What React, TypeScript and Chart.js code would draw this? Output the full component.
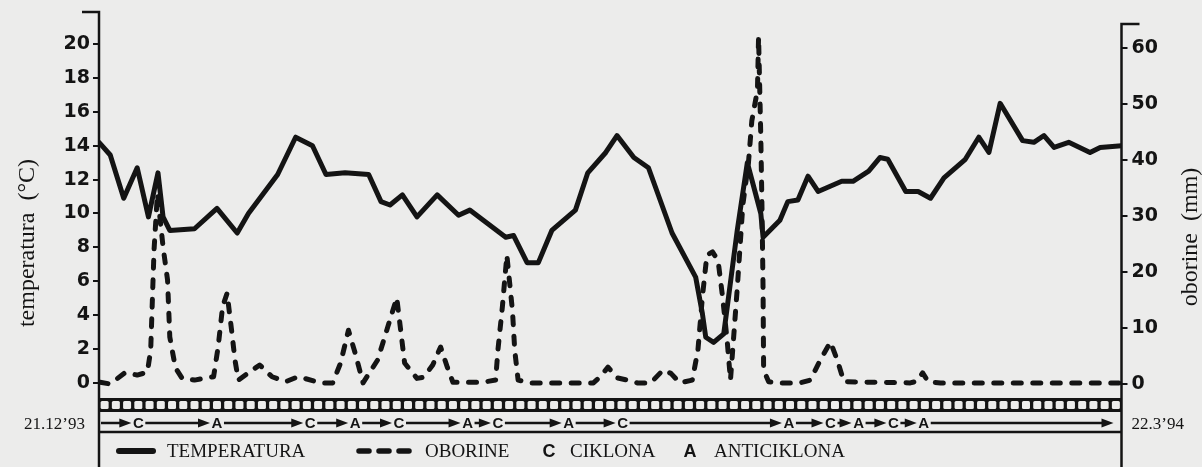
import React, { useEffect, useRef } from "react";
import { Chart, registerables } from "chart.js";

Chart.register(...registerables);

// ---- data (x = days since 21.12.1993) ----
const tempDays = [0, 1.0, 2.2, 3.4, 4.4, 5.25, 5.7, 6.3, 8.5, 10.5, 12.3, 13.3, 15.9, 17.5, 19.0, 20.2, 21.9, 24.0, 25.1, 25.9, 27.0, 28.3, 30.1, 32.0, 33.0, 34.2, 36.2, 36.9, 38.1, 39.1, 40.3, 42.4, 43.5, 45.1, 46.1, 47.6, 48.9, 51.0, 53.1, 53.7, 54.0, 54.7, 55.6, 56.8, 57.7, 58.9, 59.1, 60.6, 61.3, 62.2, 63.1, 64.0, 66.1, 67.1, 68.5, 69.5, 70.2, 71.8, 72.9, 74.0, 75.2, 77.1, 78.3, 79.2, 80.2, 82.2, 83.2, 84.1, 85.0, 86.3, 88.2, 89.1, 91.0];
const tempValues = [14.2, 13.45, 10.9, 12.7, 9.8, 12.4, 9.8, 9.0, 9.1, 10.3, 8.85, 10.0, 12.3, 14.5, 14.0, 12.3, 12.4, 12.3, 10.7, 10.5, 11.1, 9.8, 11.1, 9.9, 10.2, 9.6, 8.6, 8.7, 7.1, 7.1, 9.0, 10.2, 12.4, 13.6, 14.6, 13.3, 12.7, 8.85, 6.25, 4.1, 2.7, 2.4, 2.9, 9.0, 13.0, 10.0, 8.6, 9.6, 10.7, 10.8, 12.2, 11.3, 11.9, 11.9, 12.5, 13.3, 13.2, 11.3, 11.3, 10.9, 12.1, 13.2, 14.5, 13.6, 16.5, 14.3, 14.2, 14.6, 13.9, 14.2, 13.6, 13.9, 14.0];

const precipDays = [0.1, 1.0, 2.3, 3.4, 4.3, 4.6, 4.9, 5.2, 5.7, 6.1, 6.3, 6.8, 7.4, 8.5, 10.2, 10.6, 11.0, 11.4, 11.8, 12.1, 12.4, 13.3, 14.3, 15.4, 16.6, 17.7, 18.3, 19.7, 20.8, 21.5, 22.2, 22.8, 23.5, 24.8, 25.7, 26.5, 27.2, 28.3, 28.9, 29.7, 30.4, 31.0, 31.5, 34.1, 35.3, 35.5, 35.9, 36.3, 36.8, 37.0, 37.3, 38.4, 44.0, 44.6, 45.3, 46.1, 47.0, 47.9, 49.1, 50.2, 50.9, 51.7, 52.8, 53.3, 53.7, 54.1, 54.6, 55.1, 55.5, 55.9, 56.2, 56.8, 57.3, 57.8, 58.1, 58.6, 58.7, 58.9, 59.0, 59.1, 59.15, 59.6, 60.4, 62.4, 63.3, 64.2, 65.1, 65.7, 66.3, 72.2, 72.8, 73.3, 73.8, 74.9, 91.0];
const precipValues = [0.3, 0, 2.0, 1.6, 2.1, 6, 24, 34, 24.5, 18.6, 8.4, 2.9, 1, 0.7, 1.3, 6.6, 13.8, 16.2, 9.6, 4.3, 0.7, 2, 3.4, 1.3, 0.4, 1.3, 1.0, 0.2, 0.2, 3.75, 9.6, 5.5, 0.2, 4.3, 10.2, 15.4, 3.75, 1, 1.2, 3.4, 6.6, 3, 0.3, 0.3, 0.7, 6, 13.8, 23, 13, 6, 0.7, 0.2, 0.2, 1.3, 3, 1.1, 0.7, 0.2, 0.2, 2.5, 1.9, 0.2, 0.7, 6, 15.5, 23, 23.6, 22, 15.5, 7.9, 0.7, 17, 32, 39.5, 47, 52.5, 62, 44, 32, 17, 2.5, 0.4, 0.2, 0.2, 0.7, 4.3, 7.5, 4.3, 0.4, 0.2, 0.5, 2, 0.4, 0.2, 0.2];

const leftTicks = [0, 2, 4, 6, 8, 10, 12, 14, 16, 18, 20];
const rightTicks = [0, 10, 20, 30, 40, 50, 60];

const synopticTypes = ["C", "A", "C", "A", "C", "A", "C", "A", "C", "A", "C", "A", "C", "A"];
const synopticDays = [3.5, 10.5, 18.8, 22.8, 26.7, 32.8, 35.5, 41.8, 46.6, 61.4, 65.1, 67.6, 70.7, 73.4];

const dayCount = 91;
const startLabel = "21.12\u201993";
const endLabel = "22.3\u201994";
const leftTitle = "temperatura  (\u00B0C)";
const rightTitle = "oborine  (mm)";
const legendLabels = ["TEMPERATURA", "OBORINE", "CIKLONA", "ANTICIKLONA"];

const W = 1202;
const H = 467;
const INK = "#141414";
const PAPER = "#ececeb";
const SERIF = "'Liberation Serif', 'DejaVu Serif', serif";
const SANS_BOLD = "bold 19px 'DejaVu Sans', sans-serif";

const decor = {
  id: "decor",
  beforeDraw(chart: any) {
    const ctx = chart.ctx;
    ctx.save();
    ctx.fillStyle = PAPER;
    ctx.fillRect(0, 0, chart.width, chart.height);
    ctx.restore();
  },
  afterDraw(chart: any) {
    const ctx = chart.ctx;
    const xs = chart.scales.x;
    const ys = chart.scales.y;
    const L = xs.getPixelForValue(0);
    const R = xs.getPixelForValue(dayCount);
    const y0 = ys.getPixelForValue(0);
    const top = chart.chartArea.top;
    ctx.save();
    ctx.strokeStyle = INK;
    ctx.fillStyle = INK;
    ctx.lineCap = "butt";

    // axes
    ctx.lineWidth = 2.5;
    ctx.beginPath();
    ctx.moveTo(L - 17, top);
    ctx.lineTo(L, top);
    ctx.lineTo(L, H);
    ctx.moveTo(R + 18, top + 12);
    ctx.lineTo(R, top + 12);
    ctx.lineTo(R, H);
    ctx.stroke();

    // day strip
    const stripTop = y0 + 15;
    const stripH = 14;
    ctx.fillRect(L, stripTop, R - L, stripH);
    ctx.fillStyle = PAPER;
    for (let d = 0; d < dayCount; d++) {
      const cx = xs.getPixelForValue(d + 0.5);
      ctx.beginPath();
      (ctx as any).roundRect(cx - 4, stripTop + 3, 8, 8, 1.5);
      ctx.fill();
    }
    ctx.fillStyle = INK;

    // baseline under arrow row
    ctx.lineWidth = 2.5;
    ctx.beginPath();
    ctx.moveTo(L, y0 + 49);
    ctx.lineTo(R, y0 + 49);
    ctx.stroke();

    // arrow row
    const ay = y0 + 40;
    const arrow = (x1: number, x2: number) => {
      if (x2 - x1 < 4) return;
      ctx.lineWidth = 2.5;
      ctx.beginPath();
      ctx.moveTo(x1, ay);
      ctx.lineTo(x2 - 8, ay);
      ctx.stroke();
      ctx.beginPath();
      ctx.moveTo(x2, ay);
      ctx.lineTo(x2 - 12, ay - 4.5);
      ctx.lineTo(x2 - 12, ay + 4.5);
      ctx.closePath();
      ctx.fill();
    };
    ctx.font = "bold 15px 'Liberation Sans', sans-serif";
    ctx.textAlign = "center";
    ctx.textBaseline = "middle";
    let prev = L + 2;
    synopticDays.forEach((d, i) => {
      const x = xs.getPixelForValue(d);
      arrow(prev, x - 7);
      ctx.fillText(synopticTypes[i], x, ay + 1);
      prev = x + 7;
    });
    arrow(prev, R - 8);

    // date labels
    ctx.font = `17px ${SERIF}`;
    ctx.textAlign = "right";
    ctx.fillText(startLabel, L - 14, ay + 2);
    ctx.textAlign = "left";
    ctx.fillText(endLabel, R + 10, ay + 2);

    // legend
    const ly = y0 + 68;
    ctx.lineWidth = 6;
    ctx.lineCap = "round";
    ctx.beginPath();
    ctx.moveTo(119, ly);
    ctx.lineTo(153, ly);
    ctx.stroke();
    ctx.lineWidth = 5.5;
    ctx.setLineDash([10, 10]);
    ctx.beginPath();
    ctx.moveTo(359, ly);
    ctx.lineTo(410, ly);
    ctx.stroke();
    ctx.setLineDash([]);
    ctx.lineCap = "butt";
    ctx.font = `19px ${SERIF}`;
    ctx.textAlign = "left";
    ctx.fillText(legendLabels[0], 167, ly + 1);
    ctx.fillText(legendLabels[1], 425, ly + 1);
    ctx.fillText(legendLabels[2], 570, ly + 1);
    ctx.fillText(legendLabels[3], 714, ly + 1);
    ctx.font = "bold 18px 'Liberation Sans', sans-serif";
    ctx.textAlign = "center";
    ctx.fillText("C", 549, ly + 1);
    ctx.fillText("A", 690, ly + 1);

    // axis titles
    ctx.font = `24px ${SERIF}`;
    ctx.textAlign = "center";
    ctx.textBaseline = "middle";
    ctx.save();
    ctx.translate(28, 243);
    ctx.rotate(-Math.PI / 2);
    ctx.fillText(leftTitle, 0, 0);
    ctx.restore();
    ctx.save();
    ctx.translate(1191, 237);
    ctx.rotate(-Math.PI / 2);
    ctx.fillText(rightTitle, 0, 0);
    ctx.restore();

    ctx.restore();
  },
};

export default function App() {
  const ref = useRef<HTMLCanvasElement | null>(null);
  useEffect(() => {
    if (!ref.current) return;
    const chart = new Chart(ref.current, {
      type: "line",
      data: {
        datasets: [
          {
            label: "OBORINE",
            data: precipDays.map((d, i) => ({ x: d, y: precipValues[i] })),
            yAxisID: "y1",
            borderColor: INK,
            borderWidth: 5,
            borderDash: [8, 11.5],
            borderCapStyle: "round",
            borderJoinStyle: "round",
            pointRadius: 0,
            tension: 0,
            fill: false,
          },
          {
            label: "TEMPERATURA",
            data: tempDays.map((d, i) => ({ x: d, y: tempValues[i] })),
            yAxisID: "y",
            borderColor: INK,
            borderWidth: 5,
            borderCapStyle: "round",
            borderJoinStyle: "round",
            pointRadius: 0,
            tension: 0,
            fill: false,
          },
        ],
      },
      options: {
        animation: false,
        responsive: false,
        devicePixelRatio: 1,
        layout: { padding: { top: 12, bottom: 0, left: 0, right: 0 } },
        plugins: { legend: { display: false }, tooltip: { enabled: false } },
        scales: {
          x: { type: "linear", min: 0, max: dayCount, display: false },
          y: {
            type: "linear",
            position: "left",
            min: -4.956,
            max: 21.888,
            afterBuildTicks: (s: any) => {
              s.ticks = leftTicks.map((v) => ({ value: v }));
            },
            afterFit: (s: any) => {
              s.width = 99;
              s.paddingTop = 0;
              s.paddingBottom = 0;
            },
            ticks: { font: { family: "'DejaVu Sans', sans-serif", weight: "bold", size: 19 }, color: INK, padding: 3 },
            grid: { drawOnChartArea: false, drawTicks: true, tickLength: 6, color: INK, lineWidth: 2 },
            border: { display: false },
          },
          y1: {
            type: "linear",
            position: "right",
            min: -14.82,
            max: 66.43,
            afterBuildTicks: (s: any) => {
              s.ticks = rightTicks.map((v) => ({ value: v }));
            },
            afterFit: (s: any) => {
              s.width = 80.5;
              s.paddingTop = 0;
              s.paddingBottom = 0;
            },
            ticks: { font: { family: "'DejaVu Sans', sans-serif", weight: "bold", size: 19 }, color: INK, padding: 4 },
            grid: { drawOnChartArea: false, drawTicks: true, tickLength: 6, color: INK, lineWidth: 2 },
            border: { display: false },
          },
        },
      } as any,
      plugins: [decor],
    });
    return () => chart.destroy();
  }, []);
  return (
    <div style={{ position: "absolute", left: 0, top: 0, width: W, height: H }}>
      <canvas ref={ref} width={W} height={H} style={{ display: "block", width: W, height: H }} />
    </div>
  );
}
